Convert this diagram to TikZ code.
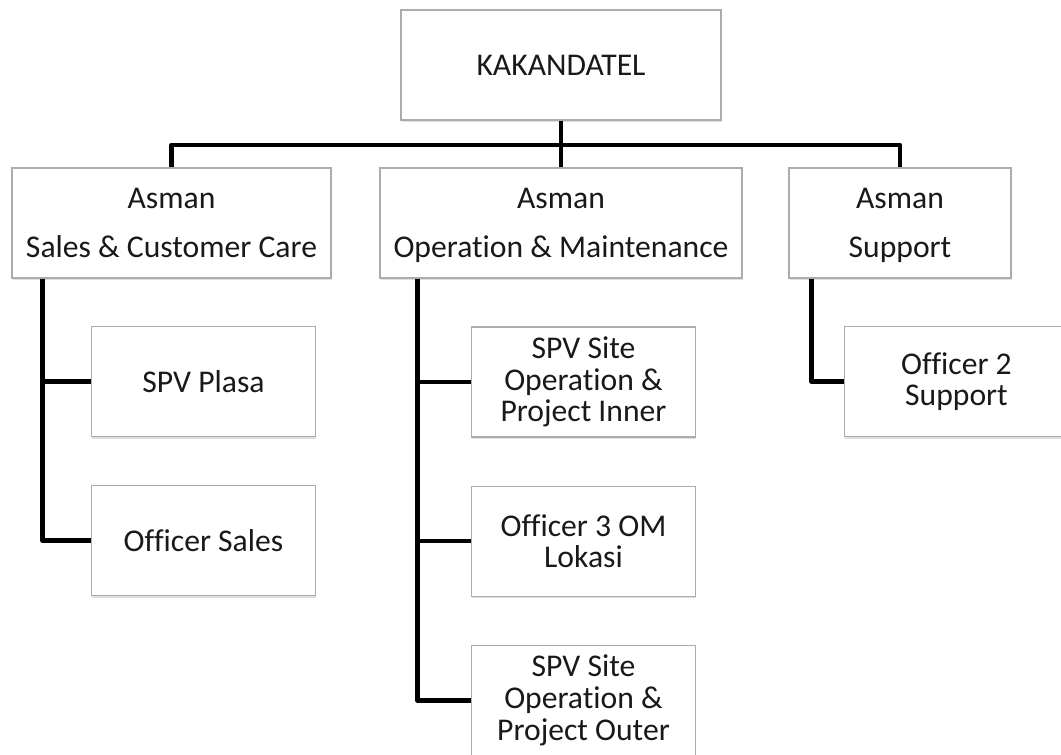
\documentclass[tikz,border=0pt]{standalone}
\usepackage{fontspec}
\setmainfont[Ligatures=NoCommon]{Carlito}
\usetikzlibrary{positioning, shadows}

\tikzset{
  unitbox/.style={
    rectangle,
    draw=gray!65,
    line width=0.8pt,
    fill=white,
    drop shadow={opacity=0.25, shadow xshift=0.6pt, shadow yshift=-1.6pt},
    inner sep=0pt,
    align=center,
    text=black!90,
    minimum height=2.75cm,
  },
  headbox/.style={unitbox, font=\fontsize{22.5}{35.5}\selectfont},
  subbox/.style={unitbox, minimum width=5.6cm, font=\fontsize{22.5}{22.5}\selectfont},
  link/.style={line width=3.3pt, line join=round, black},
}

\begin{document}
\begin{tikzpicture}[x=0.025cm, y=-0.025cm]
  \useasboundingbox (0,0) rectangle (1061,755);
  \clip (0,0) rectangle (1061,755);

  % top level
  \node[headbox, minimum width=8cm] (kak) at (561,65) {KAKANDATEL};

  % asman level
  \node[headbox, minimum width=7.975cm] (sales) at (171.5,223) {Asman\strut\\Sales \& Customer Care\strut};
  \node[headbox, minimum width=9.05cm] (om) at (561,223) {Asman\strut\\Operation \& Maintenance\strut};
  \node[headbox, minimum width=5.55cm] (supp) at (900,223) {Asman\strut\\Support\strut};

  % staff under sales
  \node[subbox] (plasa) at (203.5,381.5) {SPV Plasa};
  \node[subbox, below=1.2cm of plasa] (offsales) {Officer Sales};

  % staff under operation
  \node[subbox] (inner) at (583.5,382) {SPV Site\\Operation \&\\Project Inner};
  \node[subbox, below=1.2cm of inner] (lokasi) {Officer 3 OM\\Lokasi};
  \node[subbox, below=1.2cm of lokasi] (outer) {SPV Site\\Operation \&\\Project Outer};

  % staff under support
  \node[subbox] (off2) at (956.5,381.5) {Officer 2\\Support};

  \coordinate (bus) at (561,145);

  \draw[link] (kak) -- (bus);
  \draw[link] (sales.north) |- (bus);
  \draw[link] (om) -- (bus);
  \draw[link] (supp.north) |- (bus);

  \draw[link] ([xshift=0.775cm]sales.south west) |- (plasa.west);
  \draw[link] ([xshift=0.775cm]sales.south west) |- (offsales.west);

  \draw[link] ([xshift=0.95cm]om.south west) |- (inner.west);
  \draw[link] ([xshift=0.95cm]om.south west) |- (lokasi.west);
  \draw[link] ([xshift=0.95cm]om.south west) |- (outer.west);

  \draw[link] ([xshift=0.575cm]supp.south west) |- (off2.west);
\end{tikzpicture}
\end{document}
